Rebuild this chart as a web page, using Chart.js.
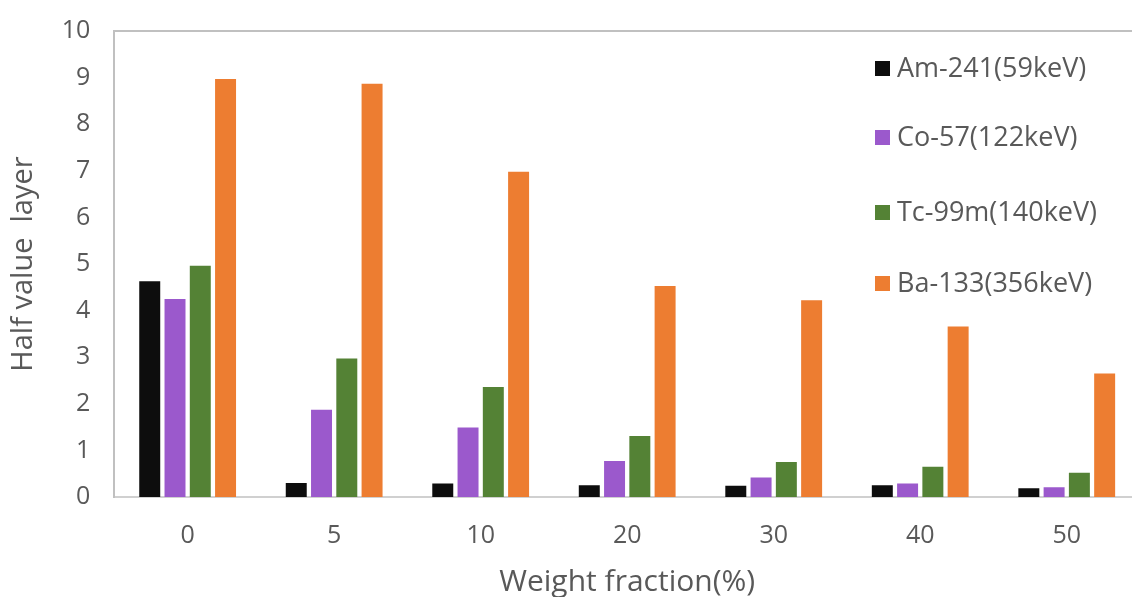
<!DOCTYPE html>
<html>
<head>
<meta charset="utf-8">
<script src="https://cdn.jsdelivr.net/npm/chart.js@4/dist/chart.umd.min.js"></script>
<style>
  html, body { margin: 0; padding: 0; background: #fff; overflow: hidden; }
  #wrap { position: relative; width: 1146px; height: 597px; }
</style>
</head>
<body>
<div id="wrap"><canvas id="hvlChart"></canvas></div>
<script>
// 数据
const categories = ['0', '5', '10', '20', '30', '40', '50'];
const seriesNames = ['Am-241(59keV)', 'Co-57(122keV)', 'Tc-99m(140keV)', 'Ba-133(356keV)'];
const am241 = [4.63, 0.30, 0.29, 0.25, 0.24, 0.25, 0.19];
const co57 = [4.25, 1.87, 1.49, 0.77, 0.42, 0.29, 0.21];
const tc99m = [4.96, 2.97, 2.36, 1.31, 0.75, 0.65, 0.52];
const ba133 = [8.97, 8.87, 6.98, 4.53, 4.22, 3.66, 2.65];
const yTicks = [0, 1, 2, 3, 4, 5, 6, 7, 8, 9, 10];

const colors = ['#0d0d0d', '#9b59cc', '#548235', '#ed7d31'];
const font = '"Open Sans", "Noto Sans", sans-serif';
const textColor = '#595959';

// 图例 + 上边框
const sideLegend = {
    id: 'sideLegend',
    afterDraw(chart) {
        const ctx = chart.ctx;
        const area = chart.chartArea;
        ctx.save();
        ctx.strokeStyle = '#c0c0c0';
        ctx.lineWidth = 2;
        ctx.beginPath();
        ctx.moveTo(area.left, area.top);
        ctx.lineTo(area.right + 2, area.top);
        ctx.stroke();

        const x0 = 875, ys = [68, 137, 212, 283];
        ctx.font = '27px ' + font;
        ctx.textBaseline = 'middle';
        ctx.textAlign = 'left';
        chart.data.datasets.forEach((ds, i) => {
            ctx.fillStyle = ds.backgroundColor;
            ctx.fillRect(x0, ys[i] - 7, 15, 15);
            ctx.fillStyle = textColor;
            ctx.fillText(ds.label, x0 + 22, ys[i] + 1);
        });
        ctx.restore();
    }
};

const ctx = document.getElementById('hvlChart').getContext('2d');
new Chart(ctx, {
    type: 'bar',
    data: {
        labels: categories,
        datasets: [am241, co57, tc99m, ba133].map((d, i) => ({
            label: seriesNames[i],
            data: d,
            backgroundColor: colors[i],
            categoryPercentage: 0.69,
            barPercentage: 0.83
        }))
    },
    options: {
        responsive: true,
        maintainAspectRatio: false,
        animation: false,
        layout: { padding: { left: 6, top: 25, right: 6, bottom: 0 } },
        plugins: {
            legend: { display: false },
            tooltip: { enabled: false }
        },
        scales: {
            x: {
                grid: { display: false },
                border: { color: '#d0d0d0', width: 2 },
                ticks: { color: textColor, font: { size: 25, family: font }, padding: 16 },
                title: {
                    display: true,
                    text: 'Weight fraction(%)',
                    color: textColor,
                    font: { size: 30, family: font, lineHeight: 1.0 },
                    padding: { top: 0, bottom: 0 }
                }
            },
            y: {
                min: 0,
                max: 10,
                afterBuildTicks: axis => { axis.ticks = yTicks.map(v => ({ value: v })); },
                grid: { display: false },
                border: { color: '#c0c0c0', width: 2 },
                ticks: { color: textColor, font: { size: 25, family: font }, padding: 16 },
                title: {
                    display: true,
                    text: 'Half value  layer',
                    color: textColor,
                    font: { size: 29, family: font },
                    padding: { top: 0, bottom: 5 }
                }
            }
        }
    },
    plugins: [sideLegend]
});
</script>
</body>
</html>
